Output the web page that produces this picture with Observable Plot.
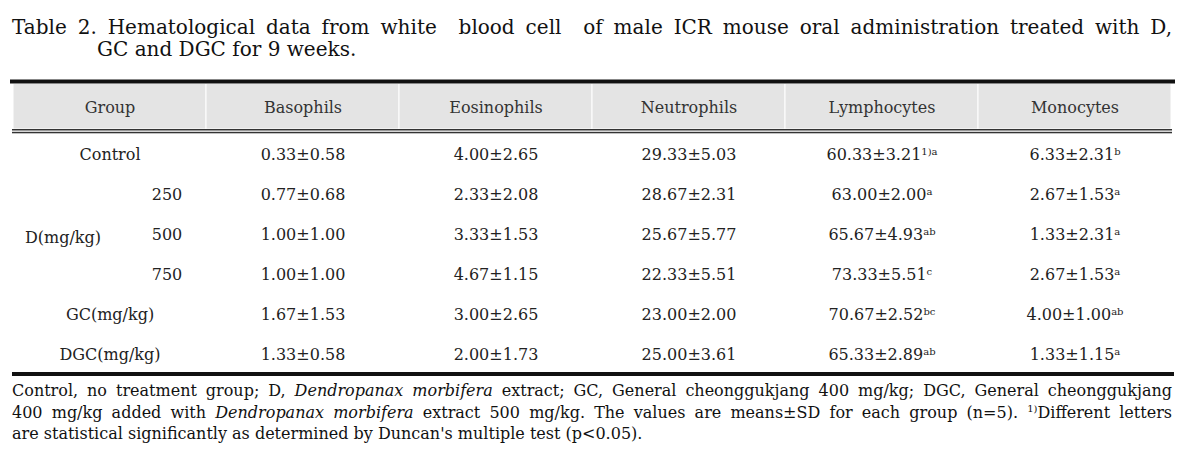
<!DOCTYPE html>
<html>
<head>
<meta charset="utf-8">
<script src="https://cdn.jsdelivr.net/npm/d3@7"></script>
<script src="https://cdn.jsdelivr.net/npm/@observablehq/plot@0.6"></script>
<style>
  html, body { margin: 0; padding: 0; background: #fff; }
  body { font-family: "DejaVu Serif", serif; color: #111; width: 1194px; }
  #title { font-size: 20px; line-height: 22px; padding-top: 16px; margin-left: 12px; width: 1160px; height: 44px; }
  .just { text-align: justify; text-align-last: justify; white-space: nowrap; }
  #title .l2 { padding-left: 85px; white-space: nowrap; }
  #chart svg { display: block; }
  #note { font-size: 16px; line-height: 21.5px; margin-left: 12px; width: 1160px; }
  #note div { white-space: nowrap; }
  #note .just { white-space: normal; }
  #note sup { font-size: 10px; line-height: 0; vertical-align: 6px; }
</style>
</head>
<body>
<div id="title">
  <div class="just" style="white-space:normal">Table 2. Hematological data from white&nbsp; blood cell&nbsp; of male ICR mouse oral administration treated with D,</div>
  <div class="l2">GC and DGC for 9 weeks.</div>
</div>
<div id="chart"></div>
<div id="note">
  <div class="just">Control, no treatment group; D, <i>Dendropanax morbifera</i> extract; GC, General cheonggukjang 400 mg/kg; DGC, General cheonggukjang</div>
  <div class="just">400 mg/kg added with <i>Dendropanax morbifera</i> extract 500 mg/kg. The values are means±SD for each group (n=5). <sup>1)</sup>Different letters</div>
  <div>are statistical significantly as determined by Duncan's multiple test (p&lt;0.05).</div>
</div>
<script>
// ---- data ----
const columns = ["Group", "Basophils", "Eosinophils", "Neutrophils", "Lymphocytes", "Monocytes"];
const rowIds = ["Control", "D250", "D500", "D750", "GC", "DGC"];
const groupLabels = ["Control", null, null, null, "GC(mg/kg)", "DGC(mg/kg)"];
const doseLabels = [null, "250", "500", "750", null, null];
const doseGroupLabel = "D(mg/kg)";
const doseGroupRow = "D500";

const basophilsMean = [0.33, 0.77, 1.00, 1.00, 1.67, 1.33];
const basophilsSD   = [0.58, 0.68, 1.00, 1.00, 1.53, 0.58];
const eosinophilsMean = [4.00, 2.33, 3.33, 4.67, 3.00, 2.00];
const eosinophilsSD   = [2.65, 2.08, 1.53, 1.15, 2.65, 1.73];
const neutrophilsMean = [29.33, 28.67, 25.67, 22.33, 23.00, 25.00];
const neutrophilsSD   = [5.03, 2.31, 5.77, 5.51, 2.00, 3.61];
const lymphocytesMean = [60.33, 63.00, 65.67, 73.33, 70.67, 65.33];
const lymphocytesSD   = [3.21, 2.00, 4.93, 5.51, 2.52, 2.89];
const lymphocytesSig  = ["1)a", "a", "ab", "c", "bc", "ab"];
const monocytesMean = [6.33, 2.67, 1.33, 2.67, 4.00, 1.33];
const monocytesSD   = [2.31, 1.53, 2.31, 1.53, 1.00, 1.15];
const monocytesSig  = ["b", "a", "a", "a", "ab", "a"];

// ---- table built from the arrays ----
const series = [
  ["Basophils", basophilsMean, basophilsSD, null],
  ["Eosinophils", eosinophilsMean, eosinophilsSD, null],
  ["Neutrophils", neutrophilsMean, neutrophilsSD, null],
  ["Lymphocytes", lymphocytesMean, lymphocytesSD, lymphocytesSig],
  ["Monocytes", monocytesMean, monocytesSD, monocytesSig]
];
const cells = [];
for (const [col, mean, sd, sig] of series) {
  rowIds.forEach((row, i) => {
    cells.push({col, row, text: mean[i].toFixed(2) + "±" + sd[i].toFixed(2), sup: sig ? sig[i] : null});
  });
}
const groupRows = rowIds.map((id, i) => ({id, label: groupLabels[i]})).filter(d => d.label);
const doseRows = rowIds.map((id, i) => ({id, label: doseLabels[i]})).filter(d => d.label);

// ---- layout ----
const W = 1194, H = 320, MT = 73, MB = 6, ML = 12, MR = 22;
const FH = H - MT - MB;
// a horizontal band (svg px) drawn as a trimmed full-frame rect
const band = (top, bottom, fill, extraL = 0, extraR = 0) =>
  Plot.rect([0], {fill, insetTop: top - MT, insetBottom: FH - (bottom - MT), insetLeft: -extraL, insetRight: -extraR});

const supText = (index, scales, values, dims, ctx, next) => {
  const g = next(index, scales, values, dims, ctx);
  d3.select(g).selectAll("text").each(function(i) {
    const s = cells[i] && cells[i].sup;
    if (s) d3.select(this).append("tspan").attr("baseline-shift", "super").attr("font-size", "10px").text(s);
  });
  return g;
};

const plot = Plot.plot({
  width: W, height: H,
  marginTop: MT, marginBottom: MB, marginLeft: ML, marginRight: MR,
  x: {type: "band", domain: columns, padding: 0, axis: null},
  y: {type: "band", domain: rowIds, padding: 0, axis: null},
  style: {fontFamily: "'DejaVu Serif', serif", fontSize: "16px", color: "#111", background: "#fff", overflow: "visible"},
  marks: [
    // header background, one cell per column (white strokes = separators)
    Plot.cell(columns, {x: d => d, fill: "#e4e4e4", stroke: "#fff", strokeWidth: 1,
      insetTop: 23.5 - MT, insetBottom: FH + (MT - 69)}),
    band(19.5, 23.5, "#111", 2, 3),     // top thick rule
    band(69, 70.5, "#333"),             // double rule under header
    band(71.8, 73.3, "#333"),
    band(FH + MT - 2, FH + MT + 2, "#111", 0, 2), // bottom rule
    // header labels
    Plot.text(columns, {x: d => d, frameAnchor: "top", lineAnchor: "middle", dy: -26, fill: "#333", fontSize: 16}),
    // group column
    Plot.text(groupRows, {x: () => "Group", y: "id", text: "label", fill: "#222"}),
    Plot.text(doseRows, {x: () => "Group", y: "id", text: "label", dx: 57, fill: "#222"}),
    Plot.text([doseGroupLabel], {x: () => "Group", y: () => doseGroupRow, text: d => d, dx: -47, dy: 3, fill: "#222"}),
    // values
    Plot.text(cells, {x: "col", y: "row", text: "text", fill: "#222", render: supText})
  ]
});
document.getElementById("chart").appendChild(plot);
</script>
</body>
</html>
